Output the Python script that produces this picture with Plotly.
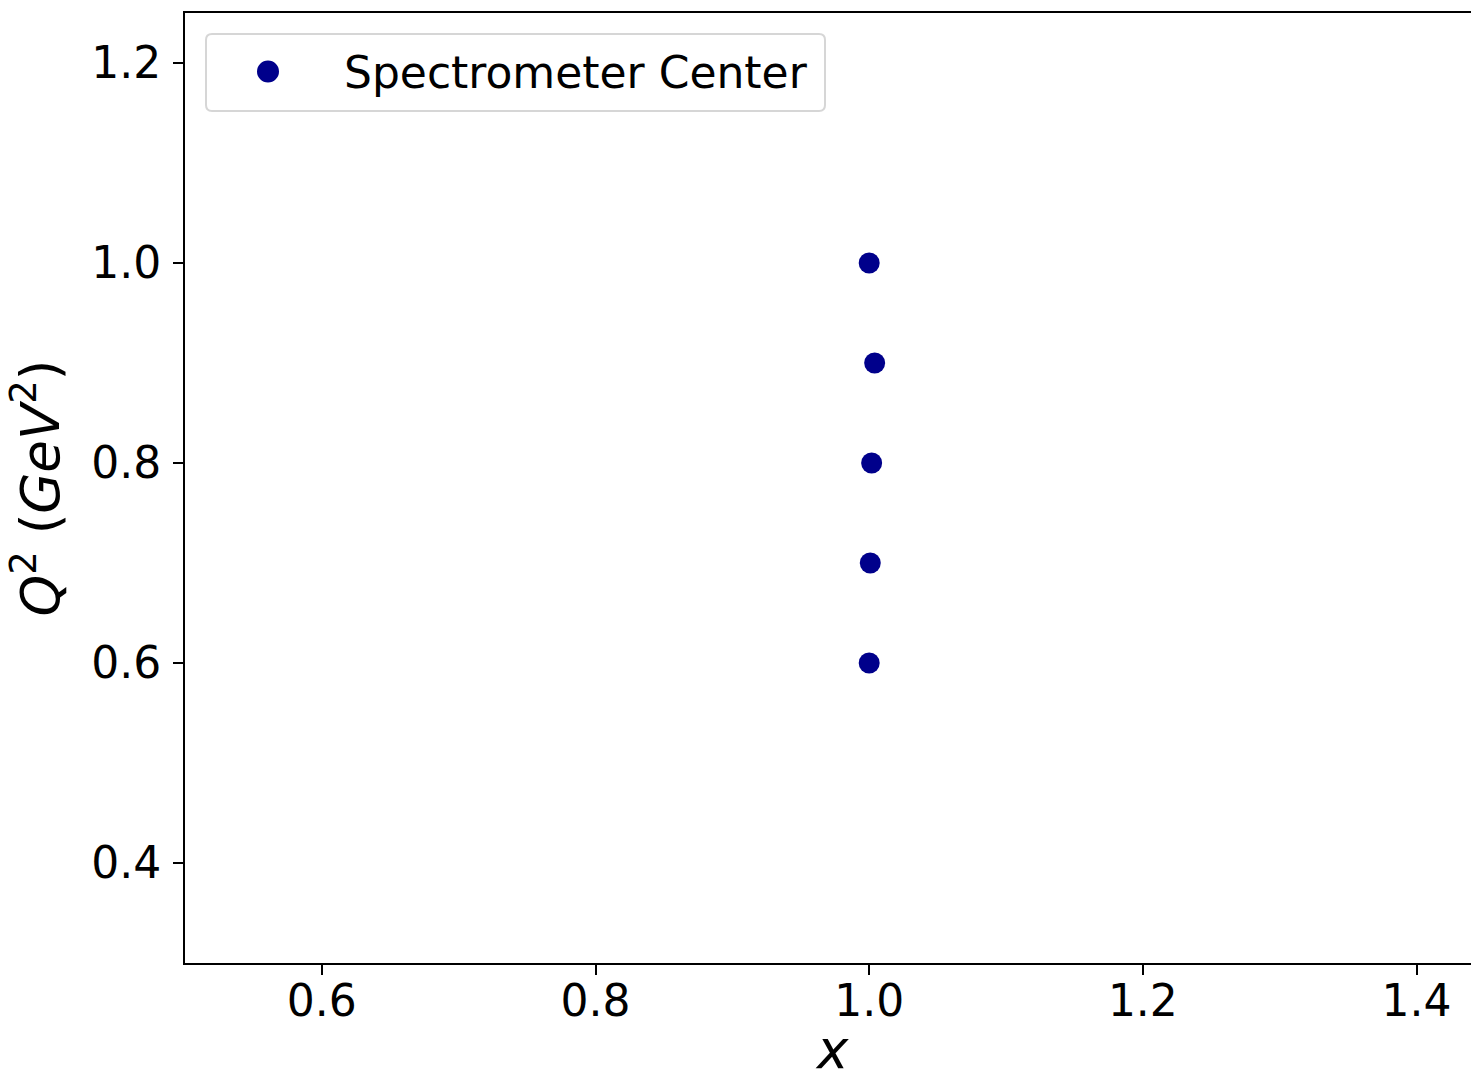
import plotly.graph_objects as go

# Spectrometer central kinematics
x_vals = [1.0, 1.004, 1.0018, 1.0008, 1.0]
q2_vals = [1.0, 0.9, 0.8, 0.7, 0.6]

x_ticks = [0.6, 0.8, 1.0, 1.2, 1.4]
y_ticks = [0.4, 0.6, 0.8, 1.0, 1.2]

W, H = 1471, 1082
ML, MR, MT, MB = 185, 0, 13, 119
PW, PH = W - ML - MR, H - MT - MB

FONT = "DejaVu Sans"
NAVY = "#00008b"
TICK_SIZE = 44
TITLE_SIZE = 53

fig = go.Figure()
fig.add_trace(go.Scatter(
    x=x_vals, y=q2_vals, mode="markers",
    name="\u00a0\u00a0\u00a0\u00a0Spectrometer Center",
    marker=dict(color=NAVY, size=21, line=dict(width=0)),
))


def px_x(p):
    return (p - ML) / PW


def px_y(p):
    return (H - MB - p) / PH


# rounded legend frame
x0, x1, y0, y1, r = px_x(206), px_x(825), px_y(34), px_y(111), 6
rx, ry = r / PW, r / PH
path = (f"M {x0+rx},{y0} L {x1-rx},{y0} Q {x1},{y0} {x1},{y0-ry} "
        f"L {x1},{y1+ry} Q {x1},{y1} {x1-rx},{y1} L {x0+rx},{y1} "
        f"Q {x0},{y1} {x0},{y1+ry} L {x0},{y0-ry} Q {x0},{y0} {x0+rx},{y0} Z")
fig.add_shape(type="path", path=path, xref="paper", yref="paper",
              line=dict(color="#d6d6d6", width=2), fillcolor="rgba(255,255,255,0.8)",
              layer="above")

# full-size legend symbol (plotly caps legend markers at 16 px)
fig.add_shape(type="circle", xref="paper", yref="paper",
              xsizemode="pixel", ysizemode="pixel",
              xanchor=px_x(268), yanchor=px_y(71.5),
              x0=-11, x1=11, y0=-11, y1=11,
              fillcolor=NAVY, line=dict(width=0), layer="above")

# x-axis label, sitting on the bottom edge of the figure
fig.add_annotation(text="<i>x</i>", xref="paper", yref="paper",
                   x=px_x(832), y=px_y(H - 1), xanchor="center", yanchor="bottom",
                   borderpad=0, showarrow=False,
                   font=dict(family=FONT, size=TITLE_SIZE, color="black"))

fig.update_layout(
    width=W, height=H,
    margin=dict(l=ML, r=MR, t=MT, b=MB, autoexpand=False),
    paper_bgcolor="white", plot_bgcolor="white",
    font=dict(family=FONT, size=TICK_SIZE, color="black"),
    showlegend=True,
    legend=dict(x=px_x(248), y=px_y(36), xanchor="left", yanchor="top",
                bgcolor="rgba(0,0,0,0)", borderwidth=0,
                font=dict(family=FONT, size=TICK_SIZE, color="black")),
)

fig.update_xaxes(
    range=[0.5, 1.4398], tickvals=x_ticks, ticktext=[f"{v:.1f}" for v in x_ticks],
    showgrid=False, zeroline=False, automargin=False,
    showline=True, linecolor="black", linewidth=2, mirror=True,
    ticks="outside", ticklen=10, tickwidth=2, tickcolor="black",
    ticklabelstandoff=-12,
)
fig.update_yaxes(
    range=[0.3, 1.25], tickvals=y_ticks, ticktext=[f"{v:.1f}" for v in y_ticks],
    showgrid=False, zeroline=False, automargin=False,
    showline=True, linecolor="black", linewidth=2,
    ticks="outside", ticklen=10, tickwidth=2, tickcolor="black",
    ticklabelstandoff=3,
    title=dict(text="<i>Q</i><sup>2</sup> (<i>GeV</i><sup>2</sup>)",
               font=dict(size=TITLE_SIZE)),
)

fig.write_html("out.html")
